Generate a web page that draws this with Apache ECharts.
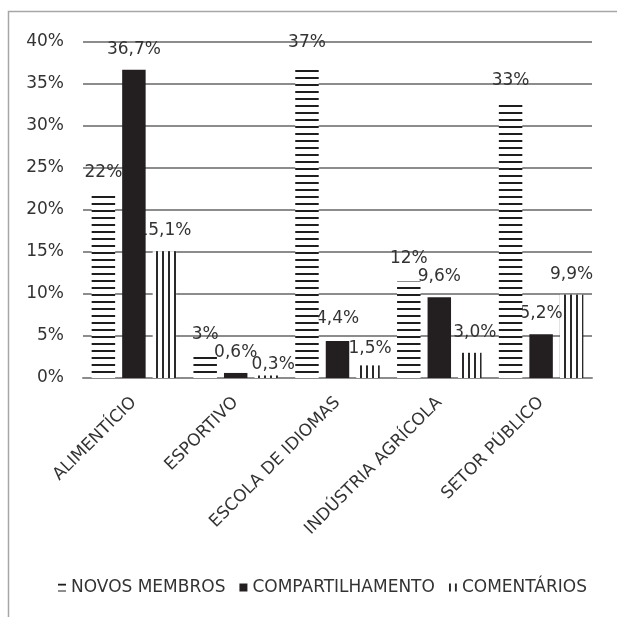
<!DOCTYPE html>
<html>
<head>
<meta charset="utf-8">
<script src="https://cdn.jsdelivr.net/npm/echarts@6/dist/echarts.min.js"></script>
<style>
  html, body { margin: 0; padding: 0; background: #fff; }
  #chart { width: 617px; height: 617px; }
</style>
</head>
<body>
<div id="chart"></div>
<script>
// Segments and the share (%) of each engagement metric
const categories = ['ALIMENTÍCIO', 'ESPORTIVO', 'ESCOLA DE IDIOMAS', 'INDÚSTRIA AGRÍCOLA', 'SETOR PÚBLICO'];
const seriesNames = ['NOVOS MEMBROS', 'COMPARTILHAMENTO', 'COMENTÁRIOS'];
const novosMembros = [22, 2.7, 37, 11.5, 33];
const compartilhamento = [36.7, 0.6, 4.4, 9.6, 5.2];
const comentarios = [15.1, 0.3, 1.5, 3.0, 9.9];
const yTicks = { min: 0, max: 40, step: 5 };

// Small per-label nudges [dx, dy] where labels would collide
const labelNudges = {
  'NOVOS MEMBROS': [null, null, [0, -4], [0, -2], null],
  'COMPARTILHAMENTO': [null, null, [0, -2], null, null],
  'COMENTÁRIOS': [null, [7, 10], [2, 4], [5, 0], null]
};

const FONT = "'DejaVu Sans', sans-serif";
const FS = 17;
const TEXT = '#333333';
const GRID = '#8c8c8c';

// Line-hatch fills
function hatch(horizontal) {
  const c = document.createElement('canvas');
  const ctx = c.getContext('2d');
  if (horizontal) {
    c.width = 8; c.height = 7;
    ctx.fillStyle = '#ffffff'; ctx.fillRect(0, 0, 8, 7);
    ctx.fillStyle = '#1e1e1e'; ctx.fillRect(0, 0, 8, 2);
  } else {
    c.width = 6; c.height = 8;
    ctx.fillStyle = '#ffffff'; ctx.fillRect(0, 0, 6, 8);
    ctx.fillStyle = '#2a2a2a'; ctx.fillRect(0, 0, 2, 8);
  }
  return { image: c, repeat: 'repeat' };
}

const fills = [hatch(true), '#231f20', hatch(false)];
const values = [novosMembros, compartilhamento, comentarios];
const formats = [
  v => Math.round(v) + '%',
  v => v.toFixed(1).replace('.', ',') + '%',
  v => v.toFixed(1).replace('.', ',') + '%'
];
// layering: comentários at the bottom, novos membros on top
const layers = [2, 1, 0];

const series = seriesNames.map((name, s) => ({
  name,
  type: 'bar',
  zlevel: layers[s],
  barCategoryGap: '17%',
  barGap: '30%',
  itemStyle: { color: fills[s] },
  label: {
    show: true,
    position: 'top',
    distance: 12,
    fontFamily: FONT,
    fontSize: FS,
    color: TEXT,
    formatter: p => formats[s](p.value)
  },
  data: values[s].map((v, i) => {
    const n = labelNudges[name][i];
    return n ? { value: v, label: { offset: n } } : v;
  })
}));

const chart = echarts.init(document.getElementById('chart'), null, { renderer: 'canvas' });
chart.setOption({
  animation: false,
  backgroundColor: '#ffffff',
  textStyle: { fontFamily: FONT },
  graphic: [{
    type: 'rect',
    silent: true,
    shape: { x: 8.5, y: 11.5, width: 700, height: 700 },
    style: { fill: 'none', stroke: '#a6a6a6', lineWidth: 1.5 }
  }],
  grid: { left: 83, right: 25, top: 42, bottom: 239 },
  legend: {
    data: seriesNames,
    top: 574,
    left: 53,
    itemWidth: 8,
    itemHeight: 8,
    itemGap: 14,
    icon: 'rect',
    textStyle: { fontFamily: FONT, fontSize: FS, color: TEXT }
  },
  xAxis: {
    type: 'category',
    data: categories,
    axisTick: { show: false },
    axisLine: { show: true, lineStyle: { color: GRID, width: 2 } },
    axisLabel: {
      interval: 0,
      rotate: 45,
      margin: 22,
      fontFamily: FONT,
      fontSize: FS,
      color: TEXT
    }
  },
  yAxis: {
    type: 'value',
    min: yTicks.min,
    max: yTicks.max,
    interval: yTicks.step,
    axisLine: { show: false },
    axisTick: { show: false },
    splitLine: { lineStyle: { color: GRID, width: 2 } },
    axisLabel: {
      margin: 19,
      fontFamily: FONT,
      fontSize: FS,
      color: TEXT,
      formatter: '{value}%'
    }
  },
  series
});
</script>
</body>
</html>
